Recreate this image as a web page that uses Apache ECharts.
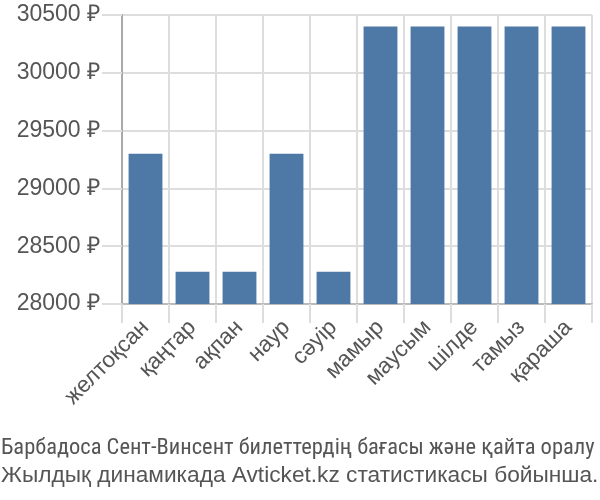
<!DOCTYPE html>
<html><head><meta charset="utf-8">
<script src="https://cdn.jsdelivr.net/npm/echarts@6/dist/echarts.min.js"></script>
<style>html,body{margin:0;padding:0;background:#fff}#c{width:600px;height:500px}</style>
</head><body><div id="c"></div>
<script>
const categories = ['желтоқсан','қаңтар','ақпан','наур','сәуір','мамыр','маусым','шілде','тамыз','қараша'];
const prices = [29300, 28280, 28280, 29300, 28280, 30400, 30400, 30400, 30400, 30400];
const yTicks = [28000, 28500, 29000, 29500, 30000, 30500];
const titleLines = ['Барбадоса Сент-Винсент билеттердің бағасы және қайта оралу', 'Жылдық динамикада Avticket.kz статистикасы бойынша.'];

const chart = echarts.init(document.getElementById('c'), null, {renderer:'canvas'});
chart.setOption({
  animation:false,
  backgroundColor:'#fff',
  title:[
    {text:titleLines[0], left:1, top:435, padding:0,
     textStyle:{fontFamily:'"Liberation Sans Narrow", "Roboto Condensed", sans-serif', fontSize:22.5, fontWeight:'normal', color:'#555', lineHeight:27}},
    {text:titleLines[1], left:1, top:462, padding:0,
     textStyle:{fontFamily:'"Liberation Sans", Arial, sans-serif', fontSize:22.7, fontWeight:'normal', color:'#555', lineHeight:27}}
  ],
  grid:{left:122, right:8, top:15, bottom:196, containLabel:false},
  xAxis:{type:'category', data:categories,
    axisLine:{show:true, lineStyle:{color:'#bbb', width:2}},
    axisTick:{show:true, length:19, lineStyle:{color:'#ddd', width:2}},
    splitLine:{show:true, lineStyle:{color:'#ddd', width:2}},
    axisLabel:{rotate:45, margin:20, fontFamily:'"Liberation Sans", Arial, sans-serif', fontSize:22.5, color:'#555', interval:0}},
  yAxis:{type:'value', min:yTicks[0], max:yTicks[yTicks.length-1], interval:500,
    axisLine:{show:true, lineStyle:{color:'#aaa', width:2}},
    axisTick:{show:true, length:20, lineStyle:{color:'#ddd', width:2}},
    splitLine:{show:true, lineStyle:{color:'#ddd', width:2}},
    axisLabel:{margin:22, fontFamily:'"Liberation Sans", Arial, sans-serif', fontSize:23, color:'#555', formatter:v=>v+' ₽'}},
  series:[{type:'bar', data:prices, barCategoryGap:'28%', itemStyle:{color:'#4e79a7'}}]
});
</script></body></html>
